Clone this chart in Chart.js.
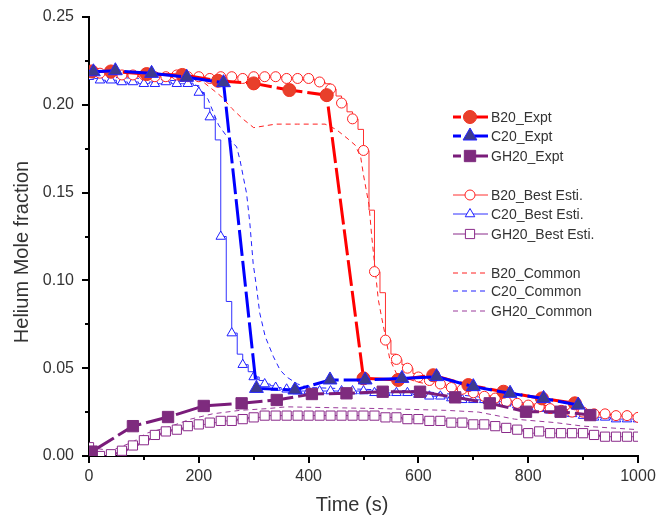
<!DOCTYPE html>
<html>
<head>
<meta charset="utf-8">
<title>Helium Mole fraction</title>
<script src="https://cdn.jsdelivr.net/npm/chart.js@4.4.1/dist/chart.umd.min.js"></script>
<style>
  html, body { margin: 0; padding: 0; background: #fff; }
  #wrap { width: 668px; height: 518px; }
</style>
</head>
<body>
<div id="wrap"><canvas id="myChart" width="668" height="518"></canvas></div>
<script>
// ---- experiment points ----
var b20ExptT = [5, 40, 105, 170, 235, 300, 365, 433, 500, 563, 627, 691, 755, 825, 885];
var b20ExptY = [0.219, 0.219, 0.2175, 0.217, 0.2137, 0.2122, 0.2084, 0.2055, 0.0442, 0.0433, 0.046, 0.0404, 0.0366, 0.0328, 0.030];

var c20ExptT = [8, 48, 114, 178, 245, 305, 375, 439, 503, 570, 633, 700, 767, 828, 891];
var c20ExptY = [0.2188, 0.2194, 0.2179, 0.2157, 0.2126, 0.0385, 0.0376, 0.0433, 0.0433, 0.0442, 0.0452, 0.0395, 0.0357, 0.0328, 0.029];

var gh20ExptT = [5, 80, 144, 209, 278, 342, 406, 469, 535, 603, 667, 730, 796, 859, 913];
var gh20ExptY = [0.0025, 0.017, 0.0222, 0.0285, 0.030, 0.0319, 0.0353, 0.0357, 0.0366, 0.0366, 0.0334, 0.030, 0.0252, 0.0252, 0.0233];

// ---- best estimate runs (every 10 s) ----
var bestTime = [0, 10, 20, 30, 40, 50, 60, 70, 80, 90,
  100, 110, 120, 130, 140, 150, 160, 170, 180, 190,
  200, 210, 220, 230, 240, 250, 260, 270, 280, 290,
  300, 310, 320, 330, 340, 350, 360, 370, 380, 390,
  400, 410, 420, 430, 440, 450, 460, 470, 480, 490,
  500, 510, 520, 530, 540, 550, 560, 570, 580, 590,
  600, 610, 620, 630, 640, 650, 660, 670, 680, 690,
  700, 710, 720, 730, 740, 750, 760, 770, 780, 790,
  800, 810, 820, 830, 840, 850, 860, 870, 880, 890,
  900, 910, 920, 930, 940, 950, 960, 970, 980, 990, 1000];

var b20Best = [0.219, 0.219, 0.218, 0.218, 0.218, 0.218, 0.217, 0.218, 0.217, 0.217,
  0.217, 0.217, 0.216, 0.217, 0.216, 0.216, 0.217, 0.216, 0.216, 0.216,
  0.216, 0.216, 0.215, 0.216, 0.216, 0.215, 0.216, 0.216, 0.215, 0.216,
  0.216, 0.215, 0.216, 0.216, 0.216, 0.216, 0.215, 0.215, 0.215, 0.214,
  0.215, 0.214, 0.213, 0.212, 0.209, 0.205, 0.201, 0.196, 0.192, 0.186,
  0.174, 0.140, 0.105, 0.093, 0.066, 0.058, 0.055, 0.052, 0.050, 0.047,
  0.045, 0.044, 0.043, 0.042, 0.041, 0.040, 0.039, 0.038, 0.038, 0.037,
  0.036, 0.035, 0.034, 0.034, 0.033, 0.032, 0.031, 0.031, 0.030, 0.029,
  0.029, 0.028, 0.028, 0.027, 0.027, 0.026, 0.026, 0.026, 0.025, 0.025,
  0.025, 0.024, 0.024, 0.024, 0.024, 0.023, 0.023, 0.023, 0.023, 0.023, 0.022];

var c20Best = [0.216, 0.215, 0.214, 0.213, 0.214, 0.212, 0.213, 0.212, 0.213, 0.212,
  0.212, 0.213, 0.212, 0.212, 0.213, 0.212, 0.212, 0.212, 0.212, 0.211,
  0.207, 0.198, 0.193, 0.180, 0.125, 0.088, 0.070, 0.058, 0.052, 0.048,
  0.045, 0.043, 0.041, 0.040, 0.039, 0.038, 0.038, 0.038, 0.037, 0.037,
  0.037, 0.037, 0.037, 0.037, 0.037, 0.037, 0.037, 0.037, 0.037, 0.037,
  0.037, 0.037, 0.036, 0.036, 0.036, 0.036, 0.036, 0.036, 0.036, 0.035,
  0.035, 0.034, 0.034, 0.034, 0.034, 0.033, 0.033, 0.033, 0.032, 0.032,
  0.032, 0.032, 0.032, 0.031, 0.031, 0.031, 0.030, 0.029, 0.029, 0.029,
  0.028, 0.028, 0.027, 0.027, 0.026, 0.026, 0.025, 0.025, 0.024, 0.024,
  0.023, 0.022, 0.022, 0.022, 0.022, 0.021, 0.021, 0.021, 0.021, 0.021, 0.021];

var gh20Best = [0.005, 0.002, 0.000, 0.000, 0.001, 0.002, 0.003, 0.004, 0.006, 0.007,
  0.009, 0.010, 0.012, 0.013, 0.014, 0.015, 0.015, 0.016, 0.017, 0.017,
  0.018, 0.018, 0.019, 0.019, 0.020, 0.020, 0.020, 0.021, 0.021, 0.022,
  0.022, 0.022, 0.023, 0.023, 0.023, 0.023, 0.023, 0.023, 0.023, 0.023,
  0.023, 0.023, 0.023, 0.023, 0.023, 0.023, 0.023, 0.023, 0.023, 0.023,
  0.023, 0.023, 0.023, 0.023, 0.022, 0.022, 0.022, 0.021, 0.021, 0.021,
  0.021, 0.020, 0.020, 0.020, 0.020, 0.020, 0.019, 0.019, 0.019, 0.018,
  0.018, 0.018, 0.018, 0.017, 0.017, 0.016, 0.016, 0.015, 0.015, 0.014,
  0.013, 0.013, 0.014, 0.014, 0.013, 0.013, 0.013, 0.013, 0.013, 0.013,
  0.013, 0.012, 0.012, 0.011, 0.011, 0.011, 0.011, 0.011, 0.011, 0.011, 0.011];

// ---- common parameter runs ----
var b20CommonT = [0, 100, 200, 220, 240, 260, 280, 300, 320, 340, 380, 430, 450, 470, 485, 495, 500, 510, 515, 520, 527, 533, 540, 548, 560, 580, 600, 650, 700, 750, 800, 850, 900, 950, 1000];
var b20CommonY = [0.217, 0.216, 0.215, 0.210, 0.205, 0.198, 0.192, 0.187, 0.188, 0.189, 0.189, 0.189, 0.186, 0.181, 0.177, 0.170, 0.160, 0.143, 0.125, 0.110, 0.089, 0.079, 0.068, 0.055, 0.047, 0.044, 0.042, 0.039, 0.036, 0.033, 0.030, 0.028, 0.026, 0.024, 0.023];

var c20CommonT = [0, 100, 190, 205, 217, 236, 251, 269, 275, 281, 287, 293, 299, 305, 311, 321, 336, 348, 360, 380, 400, 500, 600, 700, 800, 900, 1000];
var c20CommonY = [0.216, 0.215, 0.213, 0.208, 0.203, 0.1885, 0.182, 0.176, 0.1686, 0.159, 0.1496, 0.1325, 0.1097, 0.0964, 0.0814, 0.068, 0.0565, 0.049, 0.045, 0.041, 0.039, 0.038, 0.037, 0.034, 0.030, 0.025, 0.022];

var gh20CommonT = [0, 40, 80, 105, 150, 185, 225, 275, 325, 360, 530, 650, 710, 775, 850, 900, 1000];
var gh20CommonY = [0.005, 0.003, 0.008, 0.013, 0.017, 0.021, 0.024, 0.026, 0.027, 0.028, 0.027, 0.026, 0.025, 0.021, 0.019, 0.017, 0.015];

var xTickValues = [0, 200, 400, 600, 800, 1000];
var yTickValues = [0, 0.05, 0.10, 0.15, 0.20, 0.25];

function pts(t, y) {
  var out = [];
  for (var i = 0; i < t.length; i++) out.push({x: t[i], y: y[i]});
  return out;
}

// hollow markers only every other sample, like the original plot
function everyOther(r) {
  return function(c) { return c.dataIndex % 2 === 0 ? r : 0; };
}

var RED = '#ff0000', BLUE = '#0000ff', PURPLE = '#7a1c7a';
var EXPT_DASH = [26, 5];

var datasets = [
  { label: 'C20_Expt', data: pts(c20ExptT, c20ExptY), borderColor: BLUE, borderWidth: 3, borderDash: EXPT_DASH,
    pointStyle: 'triangle', pointRadius: 8, pointBackgroundColor: '#3d3a8f', pointBorderColor: '#2424ff', pointBorderWidth: 1 },
  { label: 'B20_Expt', data: pts(b20ExptT, b20ExptY), borderColor: RED, borderWidth: 3, borderDash: EXPT_DASH,
    pointStyle: 'circle', pointRadius: 6.5, pointBackgroundColor: '#e8402b', pointBorderColor: '#f03020', pointBorderWidth: 1 },
  { label: 'GH20_Expt', data: pts(gh20ExptT, gh20ExptY), borderColor: PURPLE, borderWidth: 3, borderDash: EXPT_DASH,
    pointStyle: 'rect', pointRadius: 8, pointBackgroundColor: '#7e2b7e', pointBorderColor: '#7e2b7e', pointBorderWidth: 1 },
  { label: 'B20_Best Esti.', data: pts(bestTime, b20Best), borderColor: '#ff3030', borderWidth: 1, stepped: true,
    pointStyle: 'circle', pointRadius: everyOther(5), pointBackgroundColor: '#fff', pointBorderColor: '#ff2020', pointBorderWidth: 1 },
  { label: 'C20_Best Esti.', data: pts(bestTime, c20Best), borderColor: '#3030ff', borderWidth: 1, stepped: true,
    pointStyle: 'triangle', pointRadius: everyOther(5.5), pointBackgroundColor: '#fff', pointBorderColor: '#2020ff', pointBorderWidth: 1 },
  { label: 'GH20_Best Esti.', data: pts(bestTime, gh20Best), borderColor: '#8a2a8a', borderWidth: 1, stepped: true,
    pointStyle: 'rect', pointRadius: everyOther(6.5), pointBackgroundColor: '#fff', pointBorderColor: '#8a2a8a', pointBorderWidth: 1 },
  { label: 'B20_Common', data: pts(b20CommonT, b20CommonY), borderColor: '#ff2020', borderWidth: 1, borderDash: [5, 4], pointRadius: 0 },
  { label: 'C20_Common', data: pts(c20CommonT, c20CommonY), borderColor: '#2020ff', borderWidth: 1, borderDash: [5, 4], pointRadius: 0 },
  { label: 'GH20_Common', data: pts(gh20CommonT, gh20CommonY), borderColor: '#9a3a9a', borderWidth: 1, borderDash: [5, 4], pointRadius: 0 }
];

// legend rows: dataset index, y position, kind
var legendRows = [
  [1, 117, 'expt'], [0, 136, 'expt'], [2, 156, 'expt'],
  [3, 195, 'best'], [4, 214, 'best'], [5, 234, 'best'],
  [6, 273, 'common'], [7, 291, 'common'], [8, 311, 'common']
];

var extras = {
  id: 'extras',
  afterDraw: function(chart) {
    var ctx = chart.ctx, xs = chart.scales.x, ys = chart.scales.y, a = chart.chartArea;
    ctx.save();
    // ticks, major and minor, outward
    ctx.strokeStyle = '#000';
    ctx.lineWidth = 2;
    for (var v = 0; v <= 1000; v += 100) {
      var px = Math.round(xs.getPixelForValue(v));
      var len = (v % 200 === 0) ? 7 : 4;
      ctx.beginPath(); ctx.moveTo(px, a.bottom); ctx.lineTo(px, a.bottom + len); ctx.stroke();
    }
    for (var k = 0; k <= 10; k++) {
      var py = Math.round(ys.getPixelForValue(k * 0.025));
      var l2 = (k % 2 === 0) ? 7 : 4;
      ctx.beginPath(); ctx.moveTo(a.left, py); ctx.lineTo(a.left - l2, py); ctx.stroke();
    }

    // axis titles
    ctx.fillStyle = '#333';
    ctx.font = '20px "Liberation Sans", Arial, sans-serif';
    ctx.textAlign = 'center';
    ctx.textBaseline = 'middle';
    ctx.fillText('Time (s)', 352, 505);
    ctx.translate(22, 252);
    ctx.rotate(-Math.PI / 2);
    ctx.fillText('Helium Mole fraction', 0, 0);
    ctx.restore();

    // legend
    ctx.save();
    ctx.font = '14px "Liberation Sans", Arial, sans-serif';
    ctx.textBaseline = 'middle';
    ctx.textAlign = 'left';
    legendRows.forEach(function(row) {
      var ds = datasets[row[0]], y = row[1], kind = row[2];
      ctx.strokeStyle = ds.borderColor;
      if (kind === 'expt') {
        ctx.lineWidth = 3;
        ctx.setLineDash([]);
        ctx.beginPath(); ctx.moveTo(453, y); ctx.lineTo(461, y); ctx.moveTo(466, y); ctx.lineTo(488, y); ctx.stroke();
      } else if (kind === 'best') {
        ctx.lineWidth = 1;
        ctx.setLineDash([]);
        ctx.beginPath(); ctx.moveTo(453, y); ctx.lineTo(488, y); ctx.stroke();
      } else {
        ctx.lineWidth = 1;
        ctx.setLineDash([5, 4]);
        ctx.beginPath(); ctx.moveTo(453, y); ctx.lineTo(488, y); ctx.stroke();
        ctx.setLineDash([]);
      }
      if (kind !== 'common') {
        var r = typeof ds.pointRadius === 'function' ? ds.pointRadius({dataIndex: 0}) : ds.pointRadius;
        ctx.fillStyle = ds.pointBackgroundColor;
        ctx.strokeStyle = ds.pointBorderColor;
        ctx.lineWidth = ds.pointBorderWidth;
        Chart.helpers.drawPoint(ctx, {pointStyle: ds.pointStyle, radius: r, borderWidth: ds.pointBorderWidth, rotation: 0}, 470, y);
      }
      ctx.fillStyle = '#333';
      ctx.fillText(ds.label, 491, y + 1);
    });
    ctx.restore();
  }
};

var ctx = document.getElementById('myChart');
var chart = new Chart(ctx, {
  type: 'line',
  data: { datasets: datasets },
  plugins: [extras],
  options: {
    responsive: false,
    animation: false,
    devicePixelRatio: 1,
    layout: { padding: { top: 17, right: 30, left: 0, bottom: 0 } },
    plugins: { legend: { display: false }, tooltip: { enabled: false } },
    elements: { line: { tension: 0 } },
    scales: {
      x: {
        type: 'linear', min: 0, max: 1000,
        afterFit: function(s) { s.height = 62; s.paddingLeft = 0; s.paddingRight = 0; },
        afterBuildTicks: function(s) { s.ticks = xTickValues.map(function(v) { return {value: v}; }); },
        ticks: { color: '#333', font: { size: 16, family: '"Liberation Sans", Arial, sans-serif' }, padding: 11, maxRotation: 0,
                 callback: function(v) { return String(v); } },
        grid: { display: false, drawTicks: false },
        border: { display: true, color: '#000', width: 2 }
      },
      y: {
        type: 'linear', min: 0, max: 0.25,
        afterFit: function(s) { s.width = 89; s.paddingTop = 0; s.paddingBottom = 0; },
        afterBuildTicks: function(s) { s.ticks = yTickValues.map(function(v) { return {value: v}; }); },
        ticks: { color: '#333', font: { size: 16, family: '"Liberation Sans", Arial, sans-serif' }, padding: 15,
                 callback: function(v) { return Number(v).toFixed(2); } },
        grid: { display: false, drawTicks: false },
        border: { display: true, color: '#000', width: 2 }
      }
    }
  }
});
</script>
</body>
</html>
